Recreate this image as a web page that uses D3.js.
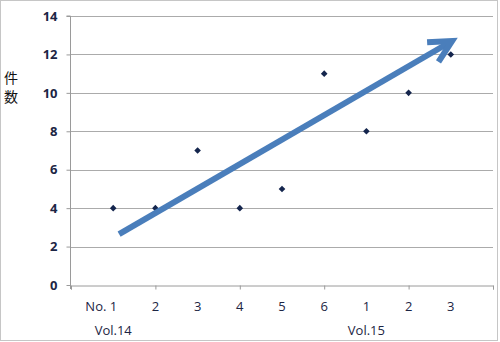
<!DOCTYPE html>
<html><head><meta charset="utf-8">
<script src="https://cdn.jsdelivr.net/npm/d3@7"></script>
<style>body{margin:0;background:#fff}svg{display:block}</style>
</head><body><div id="chart"></div>
<script>
const xPositions = [1,2,3,4,5,6,7,8,9];
const xLabels = ["No. 1","2","3","4","5","6","1","2","3"];
const counts = [4,4,7,4,5,11,8,10,12];
const groupLabels = ["Vol.14","Vol.15"];
const groupCenters = [1,7];
const yTicks = [0,2,4,6,8,10,12,14];
const xMajorTicks = [0,2,4,6,8,10];
const trendStart = [1.14, 2.65];
const trendEnd = [9.03, 12.7];
const yTitle = ["件","数"];

const W = 500, H = 342;
const svg = d3.select("#chart").append("svg").attr("width", W).attr("height", H);
svg.append("rect").attr("x",0.5).attr("y",0.5).attr("width",497).attr("height",340)
  .attr("fill","#fff").attr("stroke","#c6c6c6");

const x = d3.scaleLinear().domain([0,10]).range([71,493]);
const y = d3.scaleLinear().domain([0,14]).range([285,16]);
const font = "'Open Sans', 'Liberation Sans', sans-serif";
const txt = "#1c2544";

// gridlines
svg.append("g").selectAll("line").data(yTicks.filter(d=>d>0)).join("line")
  .attr("x1",x(0)).attr("x2",x(10)).attr("y1",d=>Math.round(y(d))+0.5).attr("y2",d=>Math.round(y(d))+0.5)
  .attr("stroke","#ababab").attr("stroke-width",1.2);

// y axis
const yAxis = svg.append("g").attr("transform",`translate(${x(0)-0.5},0)`)
  .call(d3.axisLeft(y).tickValues(yTicks).tickSize(4).tickPadding(9));
yAxis.select(".domain").attr("stroke","#9a9a9a").attr("d",`M-4,${y(14)}H0V${y(0)+4}`);
yAxis.selectAll(".tick line").attr("stroke","#9a9a9a");
yAxis.selectAll(".tick text").attr("font-family",font).attr("font-size",13).attr("font-weight","bold").attr("fill",txt);

// x axis
const xAxis = svg.append("g").attr("transform",`translate(0,${Math.round(y(0))+0.5})`)
  .call(d3.axisBottom(x).tickValues(xMajorTicks).tickSize(4).tickFormat(""));
xAxis.select(".domain").attr("stroke","#9a9a9a");
xAxis.selectAll(".tick line").attr("stroke","#9a9a9a");

svg.append("g").selectAll("text").data(xLabels).join("text")
  .attr("x",(d,i)=> i===0 ? x(xPositions[i])+4 : x(xPositions[i]))
  .attr("y",311).attr("text-anchor",(d,i)=> i===0 ? "end" : "middle")
  .attr("font-family",font).attr("font-size",13).attr("fill",txt).text(d=>d);

svg.append("g").selectAll("text").data(groupLabels).join("text")
  .attr("x",(d,i)=>x(groupCenters[i])).attr("y",335).attr("text-anchor","middle")
  .attr("font-family",font).attr("font-size",13).attr("fill",txt).text(d=>d);

// y title
svg.append("g").selectAll("text").data(yTitle).join("text")
  .attr("x",11).attr("y",(d,i)=>83+i*19).attr("text-anchor","middle")
  .attr("font-family","'Noto Sans CJK JP', sans-serif").attr("font-size",14).attr("fill","#111").text(d=>d);

// points
svg.append("g").selectAll("path").data(counts).join("path")
  .attr("transform",(d,i)=>`translate(${x(xPositions[i])},${y(d)})`)
  .attr("d","M0,-3.3L3.3,0L0,3.3L-3.3,0Z").attr("fill","#14254d");

// trend arrow
const p0 = [x(trendStart[0]), y(trendStart[1])];
const p1 = [x(trendEnd[0]), y(trendEnd[1])];
const ang = Math.atan2(p0[1]-p1[1], p0[0]-p1[0]);
const len = 25, spread = 27*Math.PI/180;
const b1 = [p1[0]+len*Math.cos(ang-spread), p1[1]+len*Math.sin(ang-spread)];
const b2 = [p1[0]+len*Math.cos(ang+spread), p1[1]+len*Math.sin(ang+spread)];
const lineEnd = [p1[0]+2*Math.cos(ang), p1[1]+2*Math.sin(ang)];
svg.append("path").attr("d",d3.line()([p0,lineEnd]))
  .attr("stroke","#4a7ebb").attr("stroke-width",6).attr("fill","none");
svg.append("path").attr("d",d3.line()([b1,p1,b2]))
  .attr("stroke","#4a7ebb").attr("stroke-width",6).attr("fill","none").attr("stroke-linejoin","miter").attr("stroke-miterlimit",10);
</script></body></html>
